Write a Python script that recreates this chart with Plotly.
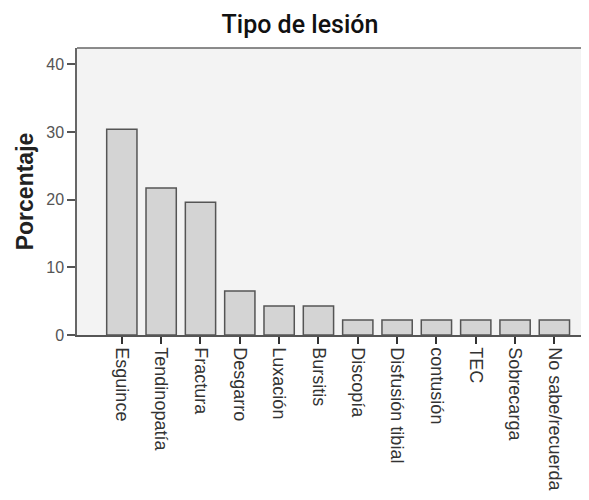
import plotly.graph_objects as go

categories = ["Esguince", "Tendinopatía", "Fractura", "Desgarro", "Luxación", "Bursitis",
              "Discopía", "Disfusión tibial", "contusión", "TEC", "Sobrecarga", "No sabe/recuerda"]
porcentaje = [30.4, 21.7, 19.6, 6.5, 4.3, 4.3, 2.2, 2.2, 2.2, 2.2, 2.2, 2.2]
y_ticks = [0, 10, 20, 30, 40]

fig = go.Figure(go.Bar(
    x=list(range(len(categories))), y=porcentaje,
    width=0.77,
    marker=dict(color="#d4d4d4", line=dict(color="#555555", width=1.5)),
))

fig.update_layout(
    width=581, height=492,
    margin=dict(l=69, r=0, t=40, b=165),
    paper_bgcolor="white", plot_bgcolor="#f3f3f3",
    showlegend=False,
    font=dict(family="Arial, Liberation Sans, sans-serif", color="#444444"),
    title=dict(text="Tipo de lesión", x=292/581, xanchor="center", y=1 - 16/492, yanchor="middle",
               xref="container", yref="container",
               font=dict(size=25, color="#111111", family="Roboto, Arial, sans-serif", weight=500)),
    shapes=[dict(type="line", xref="paper", yref="paper", x0=0, x1=1, y0=1, y1=1,
                 line=dict(color="#666666", width=1.5))],
)

fig.update_xaxes(
    range=[-1.14, 11.88], automargin=False,
    tickvals=list(range(len(categories))), ticktext=categories,
    tickangle=90, ticks="outside", ticklen=7, tickcolor="#333333", tickwidth=1.5,
    showline=True, linecolor="#555555", linewidth=1.5,
    showgrid=False, zeroline=False,
    tickfont=dict(size=18, color="#333333"),
)
fig.update_yaxes(
    range=[0, 42.4], automargin=False,
    tickvals=y_ticks, ticks="outside", ticklen=8, tickcolor="#555555", tickwidth=1.5,
    showline=True, linecolor="#666666", linewidth=1.5,
    showgrid=False, zeroline=False,
    tickfont=dict(size=16, color="#555555"),
    title=dict(text="<b>Porcentaje</b>", font=dict(size=23, color="#222222"), standoff=6),
)

fig.write_html("out.html")
